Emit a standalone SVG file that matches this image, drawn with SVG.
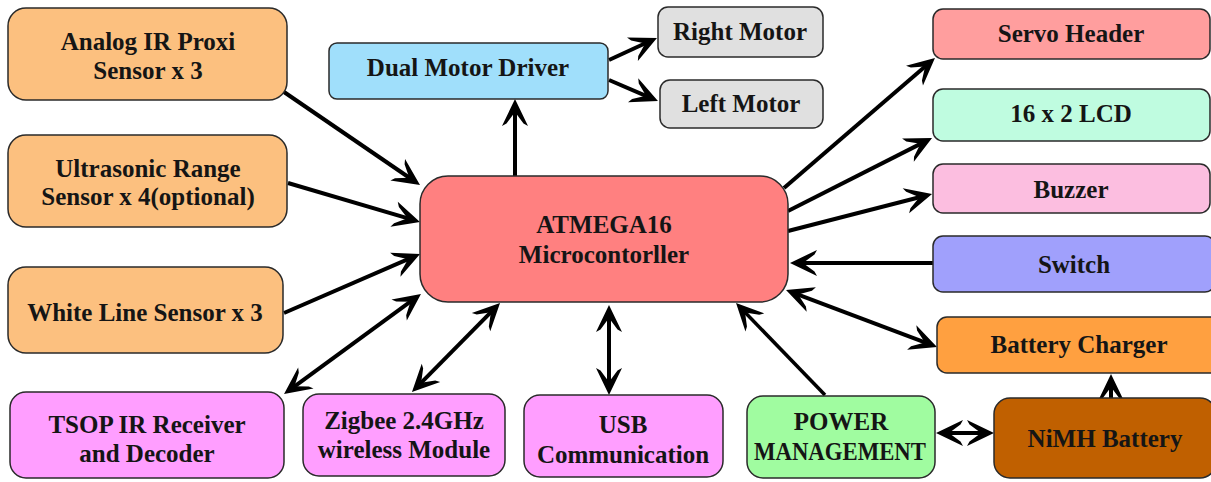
<svg xmlns="http://www.w3.org/2000/svg" width="1211" height="482" viewBox="0 0 1211 482">
<defs>
<style>
.n rect{stroke:#2a2a2a;stroke-width:1.5}
.n text{font-family:"Liberation Serif","Times New Roman",serif;font-weight:bold;font-size:25px;fill:#151515;text-anchor:middle}
.c line{stroke:#000;stroke-width:4;fill:none}
.e{marker-end:url(#ah)}
.b{marker-start:url(#ah);marker-end:url(#ah)}
</style>
<marker id="ah" markerUnits="userSpaceOnUse" viewBox="-22 -15 32 30" refX="0" refY="0" markerWidth="32" markerHeight="30" orient="auto-start-reverse">
<path d="M8,0 L-19,-13 L-16.5,-8.5 L-5,0 L-16.5,8.5 L-19,13 Z" fill="#000"/>
</marker>
</defs>
<rect width="1211" height="482" fill="#fff"/>
<g class="c" id="connectors">
<line class="e" x1="284" y1="92" x2="413.4" y2="180.5"/>
<line class="e" x1="288" y1="183" x2="412.3" y2="219.7"/>
<line class="e" x1="284" y1="313" x2="412.7" y2="257.2"/>
<line class="b" x1="290.5" y1="389.3" x2="414.5" y2="298.7"/>
<line class="b" x1="417.6" y1="386.3" x2="494.4" y2="308.7"/>
<line class="b" x1="609" y1="313" x2="609" y2="387"/>
<line class="e" x1="825" y1="395" x2="741.6" y2="308.8" style="stroke-width:3.5"/>
<line class="b" x1="793.5" y1="292.8" x2="929.5" y2="344.2"/>
<line class="e" x1="933" y1="263" x2="798" y2="263"/>
<line class="e" x1="788" y1="231" x2="924.3" y2="196"/>
<line class="e" x1="788" y1="211" x2="924.9" y2="141.6"/>
<line class="e" x1="784" y1="188" x2="928.9" y2="63.2"/>
<line class="e" x1="515" y1="176" x2="515" y2="107"/>
<line class="e" x1="609" y1="60" x2="649.7" y2="41.3"/>
<line class="e" x1="609" y1="80" x2="650.6" y2="97.8"/>
<line class="b" x1="944" y1="433" x2="986" y2="433"/>
<line class="e" x1="1111" y1="398" x2="1111" y2="382"/>
</g>
<g class="n" id="analog-ir"><rect x="8" y="8" width="279" height="92" rx="18" fill="#FCC07F"/><text x="148" y="50">Analog IR Proxi</text><text x="148" y="79">Sensor x 3</text></g>
<g class="n" id="ultrasonic"><rect x="8" y="135" width="279" height="92" rx="18" fill="#FCC07F"/><text x="148" y="177">Ultrasonic Range</text><text x="148" y="205">Sensor x 4(optional)</text></g>
<g class="n" id="white-line"><rect x="8" y="267" width="275" height="86" rx="18" fill="#FCC07F"/><text x="145" y="321">White Line Sensor x 3</text></g>
<g class="n" id="tsop"><rect x="10" y="392" width="274" height="86" rx="16" fill="#FF9EFF"/><text x="147" y="433">TSOP IR Receiver</text><text x="147" y="462">and Decoder</text></g>
<g class="n" id="zigbee"><rect x="303" y="394" width="202" height="82" rx="16" fill="#FF9EFF"/><text x="404" y="429">Zigbee 2.4GHz</text><text x="404" y="458">wireless Module</text></g>
<g class="n" id="usb"><rect x="524" y="395" width="199" height="82" rx="16" fill="#FF9EFF"/><text x="623" y="433">USB</text><text x="623" y="463">Communication</text></g>
<g class="n" id="power"><rect x="747" y="396" width="188" height="82" rx="16" fill="#A0FCA0"/><text x="841" y="430">POWER</text><text x="840" y="460" textLength="172" lengthAdjust="spacingAndGlyphs">MANAGEMENT</text></g>
<g class="n" id="nimh"><rect x="994" y="398" width="222" height="80" rx="16" fill="#C06000"/><text x="1105" y="447">NiMH Battery</text></g>
<g class="n" id="charger"><rect x="937" y="317" width="284" height="56" rx="10" fill="#FFA040"/><text x="1079" y="353">Battery Charger</text></g>
<g class="n" id="switch"><rect x="933" y="236" width="282" height="56" rx="10" fill="#A0A0FC"/><text x="1074" y="273">Switch</text></g>
<g class="n" id="buzzer"><rect x="933" y="164" width="277" height="49" rx="10" fill="#FCBEE0"/><text x="1071" y="198">Buzzer</text></g>
<g class="n" id="lcd"><rect x="933" y="89" width="277" height="52" rx="10" fill="#BFFCE0"/><text x="1071" y="122">16 x 2 LCD</text></g>
<g class="n" id="servo"><rect x="933" y="9" width="277" height="50" rx="10" fill="#FF9E9E"/><text x="1071" y="42">Servo Header</text></g>
<g class="n" id="right-motor"><rect x="658" y="7" width="165" height="50" rx="10" fill="#E0E0E0"/><text x="740" y="40">Right Motor</text></g>
<g class="n" id="left-motor"><rect x="660" y="80" width="163" height="48" rx="10" fill="#E0E0E0"/><text x="741" y="112">Left Motor</text></g>
<g class="n" id="motor-driver"><rect x="329" y="43" width="279" height="56" rx="8" fill="#A0DFFB"/><text x="468" y="76">Dual Motor Driver</text></g>
<g class="n" id="atmega"><rect x="420" y="176" width="368" height="126" rx="28" fill="#FF8080"/><text x="604" y="233">ATMEGA16</text><text x="604" y="263">Microcontorller</text></g>
</svg>
